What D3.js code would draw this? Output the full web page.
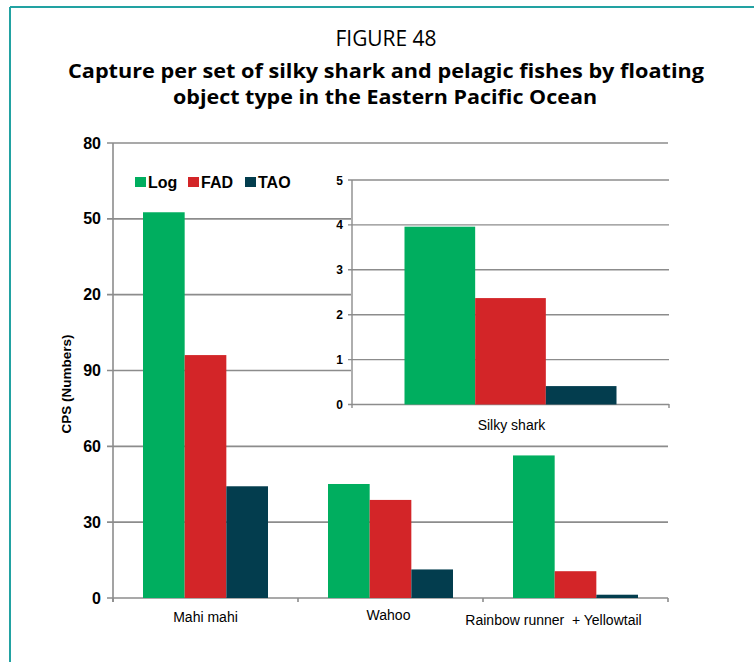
<!DOCTYPE html>
<html>
<head>
    <meta charset="UTF-8" />
    <title>Figure 48</title>
    <script src="https://d3js.org/d3.v7.min.js"></script>
    <style>
    body { margin: 0; background: #fff; }
    text { font-family: "Liberation Sans", Arial, sans-serif; white-space: pre; }
    .ttl { font-family: "Open Sans", sans-serif; }
    </style>
</head>
<body>
<script type="text/javascript">

// main chart data
var categories = ["Mahi mahi", "Wahoo", "Rainbow runner  + Yellowtail"]
var series = ["Log", "FAD", "TAO"]
var logVals = [152.6, 45.1, 56.4]
var fadVals = [96.1, 38.8, 10.6]
var taoVals = [44.2, 11.3, 1.3]
var yTicks = [0, 30, 60, 90, 120, 150, 180]
var yTickLabels = ["0", "30", "60", "90", "20", "50", "80"]   // as printed in the figure

// inset (silky shark)
var insetCat = ["Silky shark"]
var insetVals = [3.96, 2.37, 0.41]
var insetTicks = [0, 1, 2, 3, 4, 5]

var colors = ["#00ae5f", "#d32528", "#033d4e"]
var grid = "#8c8c8c"

var width = 754
var height = 662

var svg = d3.select("body").append("svg")
    .attr("width", width)
    .attr("height", height)

// teal frame (top + left)
svg.append("line").attr("x1", 10).attr("x2", width).attr("y1", 7).attr("y2", 7)
    .attr("stroke", "#22a2a2").attr("stroke-width", 2)
svg.append("line").attr("x1", 10).attr("x2", 10).attr("y1", 7).attr("y2", height)
    .attr("stroke", "#22a2a2").attr("stroke-width", 2)

// titles
svg.append("text").attr("class", "ttl").attr("x", 386).attr("y", 46)
    .attr("text-anchor", "middle").style("font-size", "21px")
    .attr("textLength", 101).attr("lengthAdjust", "spacingAndGlyphs")
    .text("FIGURE 48")
svg.append("text").attr("class", "ttl").attr("x", 386).attr("y", 78)
    .attr("text-anchor", "middle").style("font-size", "20px").style("font-weight", "bold")
    .attr("textLength", 636).attr("lengthAdjust", "spacingAndGlyphs")
    .text("Capture per set of silky shark and pelagic fishes by floating")
svg.append("text").attr("class", "ttl").attr("x", 385).attr("y", 104)
    .attr("text-anchor", "middle").style("font-size", "20px").style("font-weight", "bold")
    .attr("textLength", 424).attr("lengthAdjust", "spacingAndGlyphs")
    .text("object type in the Eastern Pacific Ocean")

// ---- main chart ----
var x0 = d3.scaleBand().domain(categories).range([113, 668]).paddingInner(0).paddingOuter(0)
var x1 = d3.scaleBand().domain(series).range([30, x0.bandwidth() - 30])
var y = d3.scaleLinear().domain([0, 180]).range([598, 143])

var g = svg.append("g")

g.selectAll("line.grid").data(yTicks).enter().append("line")
    .attr("class", "grid")
    .attr("x1", 107).attr("x2", 668)
    .attr("y1", d => y(d)).attr("y2", d => y(d))
    .attr("stroke", grid).attr("stroke-width", 1.6)

g.selectAll("text.ytick").data(yTicks).enter().append("text")
    .attr("class", "ytick")
    .attr("x", 101).attr("y", d => y(d) + 5.5)
    .attr("text-anchor", "end")
    .style("font-size", "16px").style("font-weight", "bold")
    .text((d, i) => yTickLabels[i])

g.append("line").attr("x1", 113).attr("x2", 113).attr("y1", 143).attr("y2", 602)
    .attr("stroke", grid).attr("stroke-width", 1.6)

var bounds = categories.map(c => x0(c)).concat([668])
g.selectAll("line.xtick").data(bounds).enter().append("line")
    .attr("class", "xtick")
    .attr("x1", d => d).attr("x2", d => d).attr("y1", 598).attr("y2", 602)
    .attr("stroke", grid).attr("stroke-width", 1.6)

var rows = categories.map((c, i) => ({cat: c, vals: [logVals[i], fadVals[i], taoVals[i]]}))

var grp = g.selectAll("g.cat").data(rows).enter().append("g")
    .attr("class", "cat")
    .attr("transform", d => "translate(" + x0(d.cat) + ",0)")

grp.selectAll("rect").data(d => d.vals.map((v, j) => ({s: series[j], v: v, j: j})))
    .enter().append("rect")
    .attr("x", d => x1(d.s))
    .attr("width", x1.bandwidth())
    .attr("y", d => y(d.v))
    .attr("height", d => y(0) - y(d.v))
    .attr("fill", d => colors[d.j])

var labelShift = [0, -2, -22]
var labelBase = [622, 620, 625]
g.selectAll("text.xlab").data(categories).enter().append("text")
    .attr("class", "xlab")
    .attr("x", (d, i) => x0(d) + x0.bandwidth() / 2 + labelShift[i])
    .attr("y", (d, i) => labelBase[i])
    .attr("text-anchor", "middle")
    .style("font-size", "14px")
    .text(d => d)

// y axis title
svg.append("text")
    .attr("transform", "translate(71,384) rotate(-90)")
    .attr("text-anchor", "middle")
    .style("font-size", "13.5px").style("font-weight", "bold")
    .text("CPS (Numbers)")

// legend
var leg = svg.append("g").selectAll("g").data(series).enter().append("g")
var legX = [135, 188, 245]
leg.append("rect")
    .attr("x", (d, i) => legX[i]).attr("y", 177)
    .attr("width", 11).attr("height", 10)
    .attr("fill", (d, i) => colors[i])
leg.append("text")
    .attr("x", (d, i) => legX[i] + 13).attr("y", 188)
    .style("font-size", "16px").style("font-weight", "bold")
    .text(d => d)

// ---- inset: silky shark ----
var ins = svg.append("g")
ins.append("rect").attr("x", 351).attr("y", 168).attr("width", 330).attr("height", 268)
    .attr("fill", "#fff")

var ix0 = d3.scaleBand().domain(insetCat).range([352, 669])
var ix1 = d3.scaleBand().domain(series).range([52.5, ix0.bandwidth() - 52.5])
var iy = d3.scaleLinear().domain([0, 5]).range([404.5, 180])

ins.selectAll("line.grid").data(insetTicks).enter().append("line")
    .attr("class", "grid")
    .attr("x1", 348).attr("x2", 669)
    .attr("y1", d => iy(d)).attr("y2", d => iy(d))
    .attr("stroke", grid).attr("stroke-width", 1.4)

ins.selectAll("text.ytick").data(insetTicks).enter().append("text")
    .attr("class", "ytick")
    .attr("x", 343).attr("y", d => iy(d) + 4.5)
    .attr("text-anchor", "end")
    .style("font-size", "12px").style("font-weight", "bold")
    .text(d => d)

ins.append("line").attr("x1", 352).attr("x2", 352).attr("y1", 180).attr("y2", 408)
    .attr("stroke", grid).attr("stroke-width", 1.4)
ins.append("line").attr("x1", 669).attr("x2", 669).attr("y1", 404).attr("y2", 408)
    .attr("stroke", grid).attr("stroke-width", 1.4)

ins.selectAll("rect.bar").data(insetVals).enter().append("rect")
    .attr("class", "bar")
    .attr("x", (d, j) => ix0(insetCat[0]) + ix1(series[j]))
    .attr("width", ix1.bandwidth())
    .attr("y", d => iy(d))
    .attr("height", d => iy(0) - iy(d))
    .attr("fill", (d, j) => colors[j])

ins.append("text")
    .attr("x", ix0(insetCat[0]) + ix0.bandwidth() / 2 + 1).attr("y", 430)
    .attr("text-anchor", "middle")
    .style("font-size", "14px")
    .text(insetCat[0])

</script>
</body>
</html>
